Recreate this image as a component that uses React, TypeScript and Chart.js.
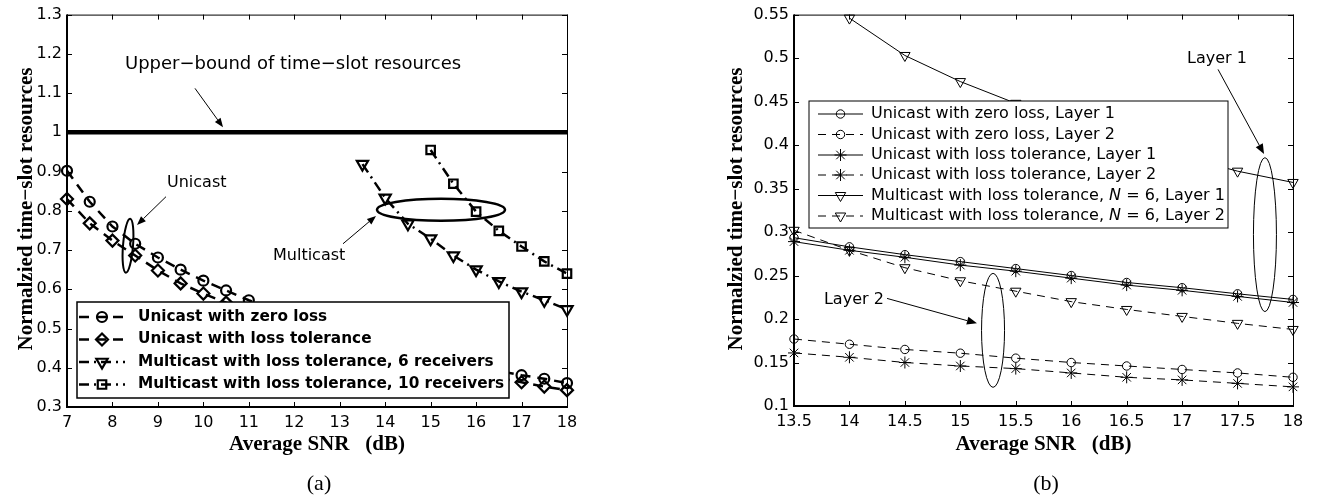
import React, { useEffect, useRef } from 'react';
import { Chart, registerables } from 'chart.js';

Chart.register(...registerables);

// ---------- Data: panel (a) ----------
const snrA = [7, 7.5, 8, 8.5, 9, 9.5, 10, 10.5, 11, 11.5, 12, 12.5, 13, 13.5, 14, 14.5, 15, 15.5, 16, 16.5, 17, 17.5, 18];
const unicastZeroLossA = [0.902, 0.823, 0.760, 0.716, 0.681, 0.650, 0.622, 0.597, 0.572, 0.549, 0.528, 0.508, 0.490, 0.473, 0.457, 0.442, 0.428, 0.415, 0.403, 0.392, 0.381, 0.372, 0.361];
const unicastLossTolA = [0.830, 0.768, 0.724, 0.686, 0.648, 0.615, 0.589, 0.566, 0.544, 0.524, 0.505, 0.487, 0.470, 0.454, 0.439, 0.425, 0.411, 0.398, 0.386, 0.374, 0.363, 0.352, 0.343];
const snrMulti6A = [13.5, 14, 14.5, 15, 15.5, 16, 16.5, 17, 17.5, 18];
const multicast6A = [0.919, 0.833, 0.767, 0.729, 0.686, 0.650, 0.620, 0.594, 0.572, 0.549];
const snrMulti10A = [15, 15.5, 16, 16.5, 17, 17.5, 18];
const multicast10A = [0.955, 0.869, 0.798, 0.749, 0.709, 0.671, 0.640];
const boundSnrA = [7, 18];
const upperBoundA = [1, 1];
const xTicksA = [7, 8, 9, 10, 11, 12, 13, 14, 15, 16, 17, 18];
const yTicksA = [0.3, 0.4, 0.5, 0.6, 0.7, 0.8, 0.9, 1, 1.1, 1.2, 1.3];
const legendA = [
  'Unicast with zero loss',
  'Unicast with loss tolerance',
  'Multicast with loss tolerance, 6 receivers',
  'Multicast with loss tolerance, 10 receivers',
];

// ---------- Data: panel (b) ----------
const snrB = [13.5, 14, 14.5, 15, 15.5, 16, 16.5, 17, 17.5, 18];
const uniZeroL1B = [0.2935, 0.283, 0.274, 0.266, 0.258, 0.250, 0.242, 0.236, 0.229, 0.2225];
const uniZeroL2B = [0.177, 0.171, 0.165, 0.1607, 0.155, 0.150, 0.146, 0.142, 0.138, 0.133];
const uniTolL1B = [0.289, 0.279, 0.271, 0.262, 0.255, 0.247, 0.239, 0.233, 0.226, 0.219];
const uniTolL2B = [0.161, 0.156, 0.150, 0.146, 0.143, 0.138, 0.133, 0.130, 0.126, 0.122];
const multiL1B = [null, 0.546, 0.503, 0.473, 0.448, 0.425, 0.405, 0.387, 0.370, 0.357];
const multiL2B = [0.302, 0.279, 0.259, 0.244, 0.232, 0.220, 0.211, 0.203, 0.195, 0.188];
const xTicksB = [13.5, 14, 14.5, 15, 15.5, 16, 16.5, 17, 17.5, 18];
const yTicksB = [0.1, 0.15, 0.2, 0.25, 0.3, 0.35, 0.4, 0.45, 0.5, 0.55];
const legendB = [
  'Unicast with zero loss, Layer 1',
  'Unicast with zero loss, Layer 2',
  'Unicast with loss tolerance, Layer 1',
  'Unicast with loss tolerance, Layer 2',
  'Multicast with loss tolerance, N = 6, Layer 1',
  'Multicast with loss tolerance, N = 6, Layer 2',
];

const X_TITLE = 'Average SNR   (dB)';
const Y_TITLE = 'Normalzied time\u2212slot resources';

const SANS = '"DejaVu Sans"';
const SERIF = '"Liberation Serif"';

type Style = {
  dash: number[];
  width: number;
  point: string | false;
  rot?: number;
  r?: number;
  pw?: number;
};

function fmt(v: number) {
  return String(Math.round(v * 1000) / 1000);
}

function makeDataset(label: string, xs: number[], ys: (number | null)[], s: Style) {
  return {
    label,
    data: xs.map((x, i) => ({ x, y: ys[i] })),
    borderColor: '#000',
    backgroundColor: 'rgba(0,0,0,0)',
    borderWidth: s.width,
    borderDash: s.dash,
    pointStyle: s.point === false ? 'circle' : s.point,
    pointRadius: s.point === false ? 0 : s.r,
    pointRotation: s.rot || 0,
    pointBorderWidth: s.pw,
    pointBorderColor: '#000',
    pointBackgroundColor: 'rgba(0,0,0,0)',
    tension: 0,
    fill: false,
    clip: false as any,
    spanGaps: false,
  };
}

function drawMarker(ctx: CanvasRenderingContext2D, style: string, rot: number, x: number, y: number, r: number) {
  ctx.beginPath();
  if (style === 'circle') {
    ctx.arc(x, y, r, 0, Math.PI * 2);
  } else if (style === 'rectRot') {
    ctx.moveTo(x, y - r);
    ctx.lineTo(x + r, y);
    ctx.lineTo(x, y + r);
    ctx.lineTo(x - r, y);
    ctx.closePath();
  } else if (style === 'rect') {
    const h = r * Math.SQRT1_2;
    ctx.rect(x - h, y - h, 2 * h, 2 * h);
  } else if (style === 'triangle') {
    let a = (rot * Math.PI) / 180;
    ctx.moveTo(x + Math.sin(a) * r, y - Math.cos(a) * r);
    a += (2 * Math.PI) / 3;
    ctx.lineTo(x + Math.sin(a) * r, y - Math.cos(a) * r);
    a += (2 * Math.PI) / 3;
    ctx.lineTo(x + Math.sin(a) * r, y - Math.cos(a) * r);
    ctx.closePath();
  } else if (style === 'star') {
    for (let k = 0; k < 4; k++) {
      const a = (k * Math.PI) / 4;
      ctx.moveTo(x - Math.sin(a) * r, y - Math.cos(a) * r);
      ctx.lineTo(x + Math.sin(a) * r, y + Math.cos(a) * r);
    }
  }
  ctx.stroke();
}

type Ann = {
  texts: { t: string; x: number; y: number; size: number }[];
  arrows: { x1: number; y1: number; x2: number; y2: number; lw: number; hl: number; hw: number }[];
  ellipses: { x: number; y: number; rx: number; ry: number; rot: number; lw: number }[];
};

type LegendCfg = {
  box: [number, number, number, number];
  rows: number[];
  lineX: [number, number];
  textX: number;
  font: string;
  boxLw: number;
};

function decorPlugin(id: string, styles: Style[], labels: string[], leg: LegendCfg, ann: Ann, tag: string, tagX: number, yTitleX: number) {
  return {
    id,
    afterDraw(chart: any) {
      const { ctx, chartArea: ca } = chart;
      const xs = chart.scales.x;
      const ys = chart.scales.y;
      ctx.save();
      ctx.strokeStyle = '#000';
      ctx.fillStyle = '#000';
      ctx.setLineDash([]);
      // ticks (inward)
      ctx.lineWidth = 1;
      const TL = 5;
      ctx.beginPath();
      xs.ticks.forEach((t: any) => {
        const p = Math.round(xs.getPixelForValue(t.value)) + 0.5;
        ctx.moveTo(p, ca.bottom);
        ctx.lineTo(p, ca.bottom - TL);
        ctx.moveTo(p, ca.top);
        ctx.lineTo(p, ca.top + TL);
      });
      ys.ticks.forEach((t: any) => {
        const p = Math.round(ys.getPixelForValue(t.value)) + 0.5;
        ctx.moveTo(ca.left, p);
        ctx.lineTo(ca.left + TL, p);
        ctx.moveTo(ca.right, p);
        ctx.lineTo(ca.right - TL, p);
      });
      ctx.stroke();
      // frame
      ctx.lineWidth = 1;
      ctx.beginPath();
      ctx.moveTo(ca.left, ca.top + 0.5);
      ctx.lineTo(ca.right, ca.top + 0.5);
      ctx.moveTo(ca.right + 0.5, ca.top);
      ctx.lineTo(ca.right + 0.5, ca.bottom);
      ctx.stroke();
      ctx.lineWidth = 2;
      ctx.beginPath();
      ctx.moveTo(ca.left, ca.top);
      ctx.lineTo(ca.left, ca.bottom);
      ctx.lineTo(ca.right + 1, ca.bottom);
      ctx.stroke();

      // annotations
      const X = (v: number) => xs.getPixelForValue(v);
      const Y = (v: number) => ys.getPixelForValue(v);
      ann.ellipses.forEach((e) => {
        ctx.lineWidth = e.lw;
        ctx.beginPath();
        ctx.ellipse(X(e.x), Y(e.y), e.rx, e.ry, e.rot, 0, Math.PI * 2);
        ctx.stroke();
      });
      ann.arrows.forEach((a) => {
        const x1 = X(a.x1), y1 = Y(a.y1), x2 = X(a.x2), y2 = Y(a.y2);
        const ang = Math.atan2(y2 - y1, x2 - x1);
        const bx = x2 - Math.cos(ang) * a.hl;
        const by = y2 - Math.sin(ang) * a.hl;
        ctx.lineWidth = a.lw;
        ctx.beginPath();
        ctx.moveTo(x1, y1);
        ctx.lineTo(bx, by);
        ctx.stroke();
        ctx.beginPath();
        ctx.moveTo(x2, y2);
        ctx.lineTo(bx + Math.sin(ang) * a.hw, by - Math.cos(ang) * a.hw);
        ctx.lineTo(bx - Math.sin(ang) * a.hw, by + Math.cos(ang) * a.hw);
        ctx.closePath();
        ctx.fill();
      });
      ctx.textBaseline = 'middle';
      ctx.textAlign = 'left';
      ann.texts.forEach((t) => {
        ctx.font = `${t.size}px ${SANS}`;
        ctx.fillText(t.t, X(t.x), Y(t.y));
      });

      // legend
      const [bx0, by0, bx1, by1] = leg.box;
      ctx.fillStyle = '#fff';
      ctx.fillRect(bx0, by0, bx1 - bx0, by1 - by0);
      ctx.lineWidth = leg.boxLw;
      ctx.strokeRect(bx0, by0, bx1 - bx0, by1 - by0);
      ctx.fillStyle = '#000';
      labels.forEach((lab, i) => {
        const s = styles[i];
        const ry = leg.rows[i];
        ctx.lineWidth = s.width;
        ctx.setLineDash(s.dash);
        ctx.beginPath();
        ctx.moveTo(leg.lineX[0], ry);
        ctx.lineTo(leg.lineX[1], ry);
        ctx.stroke();
        ctx.setLineDash([]);
        if (s.point) {
          ctx.lineWidth = s.pw || 1;
          drawMarker(ctx, s.point, s.rot || 0, (leg.lineX[0] + leg.lineX[1]) / 2, ry, s.r || 4);
        }
        // text with italic N
        let x = leg.textX;
        const parts = lab.split(/(\bN\b)/);
        parts.forEach((p) => {
          if (p === 'N') ctx.font = `italic ${leg.font}`;
          else ctx.font = leg.font;
          ctx.fillText(p, x, ry);
          x += ctx.measureText(p).width;
        });
      });

      // axis titles
      ctx.font = `bold 21px ${SERIF}`;
      ctx.textAlign = 'center';
      ctx.textBaseline = 'alphabetic';
      ctx.fillText(X_TITLE, (ca.left + ca.right) / 2, 450);
      ctx.save();
      ctx.translate(yTitleX, 209);
      ctx.rotate(-Math.PI / 2);
      ctx.fillText(Y_TITLE, 0, 0);
      ctx.restore();
      ctx.font = `22px ${SERIF}`;
      ctx.fillText(tag, tagX, 490);
      ctx.restore();
    },
  };
}

function scaleOpts(min: number, max: number, ticks: number[], isX: boolean, size: number) {
  return {
    type: 'linear' as const,
    min,
    max,
    grid: { display: false, drawTicks: false, tickLength: 0 },
    border: { display: false },
    afterBuildTicks: (s: any) => {
      s.ticks = ticks.map((v) => ({ value: v }));
    },
    afterFit: (s: any) => {
      if (isX) s.height = size;
      else s.width = size;
    },
    ticks: {
      autoSkip: false,
      maxRotation: 0,
      minRotation: 0,
      padding: isX ? 6 : 5,
      color: '#000',
      font: { family: 'DejaVu Sans', size: 16 },
      callback: (v: any) => fmt(Number(v)),
    },
  };
}

const stylesA: Style[] = [
  { dash: [10, 7], width: 2.5, point: 'circle', r: 5, pw: 2.2 },
  { dash: [10, 7], width: 2.5, point: 'rectRot', r: 6, pw: 2.2 },
  { dash: [10, 5, 2, 5], width: 2.5, point: 'triangle', rot: 180, r: 6.5, pw: 2.2 },
  { dash: [10, 5, 2, 5], width: 2.5, point: 'rect', r: 6, pw: 2.2 },
];
const boundStyleA: Style = { dash: [], width: 4.5, point: false };

const stylesB: Style[] = [
  { dash: [], width: 1, point: 'circle', r: 4.2, pw: 1 },
  { dash: [8, 6], width: 1, point: 'circle', r: 4.2, pw: 1 },
  { dash: [], width: 1, point: 'star', r: 6, pw: 1 },
  { dash: [8, 6], width: 1, point: 'star', r: 6, pw: 1 },
  { dash: [], width: 1, point: 'triangle', rot: 180, r: 6, pw: 1 },
  { dash: [8, 6], width: 1, point: 'triangle', rot: 180, r: 6, pw: 1 },
];

const annA: Ann = {
  texts: [
    { t: 'Upper\u2212bound of time\u2212slot resources', x: 8.276, y: 1.173, size: 18 },
    { t: 'Unicast', x: 9.2, y: 0.871, size: 16 },
    { t: 'Multicast', x: 11.532, y: 0.686, size: 16 },
  ],
  arrows: [
    { x1: 9.816, y1: 1.112, x2: 10.432, y2: 1.013, lw: 1, hl: 9, hw: 3.5 },
    { x1: 9.178, y1: 0.836, x2: 8.54, y2: 0.764, lw: 1, hl: 9, hw: 3.5 },
    { x1: 13.072, y1: 0.716, x2: 13.798, y2: 0.787, lw: 1, hl: 9, hw: 3.5 },
  ],
  ellipses: [
    { x: 8.342, y: 0.711, rx: 5, ry: 27, rot: 0.08, lw: 2 },
    { x: 15.228, y: 0.8025, rx: 64, ry: 11, rot: 0, lw: 2.5 },
  ],
};

const annB: Ann = {
  texts: [
    { t: 'Layer 1', x: 17.044, y: 0.4996, size: 16 },
    { t: 'Layer 2', x: 13.77, y: 0.2225, size: 16 },
  ],
  arrows: [
    { x1: 17.324, y1: 0.487, x2: 17.739, y2: 0.3897, lw: 1, hl: 10, hw: 4 },
    { x1: 14.339, y1: 0.2237, x2: 15.15, y2: 0.195, lw: 1, hl: 10, hw: 4 },
  ],
  ellipses: [
    { x: 17.747, y: 0.297, rx: 11.5, ry: 77, rot: 0, lw: 1 },
    { x: 15.295, y: 0.187, rx: 11.5, ry: 57, rot: 0, lw: 1 },
  ],
};

export default function App() {
  const refA = useRef<HTMLCanvasElement>(null);
  const refB = useRef<HTMLCanvasElement>(null);

  useEffect(() => {
    const chartA = new Chart(refA.current as HTMLCanvasElement, {
      type: 'line',
      data: {
        datasets: [
          makeDataset('Upper-bound', boundSnrA, upperBoundA, boundStyleA),
          makeDataset(legendA[0], snrA, unicastZeroLossA, stylesA[0]),
          makeDataset(legendA[1], snrA, unicastLossTolA, stylesA[1]),
          makeDataset(legendA[2], snrMulti6A, multicast6A, stylesA[2]),
          makeDataset(legendA[3], snrMulti10A, multicast10A, stylesA[3]),
        ] as any,
      },
      options: {
        responsive: false,
        animation: false,
        events: [],
        devicePixelRatio: 1,
        layout: { padding: { left: 0, right: 83, top: 13, bottom: 0 } },
        plugins: { legend: { display: false }, tooltip: { enabled: false } },
        scales: {
          x: scaleOpts(7, 18, xTicksA, true, 91),
          y: scaleOpts(0.3, 1.3, yTicksA, false, 67),
        } as any,
      },
      plugins: [
        decorPlugin(
          'decorA',
          stylesA,
          legendA,
          { box: [77, 302, 509, 398], rows: [317, 339.5, 362, 384.5], lineX: [79, 125], textX: 138, font: `bold 15.3px ${SANS}`, boxLw: 1.5 },
          annA,
          '(a)',
          319,
          32
        ),
      ],
    });

    const chartB = new Chart(refB.current as HTMLCanvasElement, {
      type: 'line',
      data: {
        datasets: [
          makeDataset(legendB[0], snrB, uniZeroL1B, stylesB[0]),
          makeDataset(legendB[1], snrB, uniZeroL2B, stylesB[1]),
          makeDataset(legendB[2], snrB, uniTolL1B, stylesB[2]),
          makeDataset(legendB[3], snrB, uniTolL2B, stylesB[3]),
          makeDataset(legendB[4], snrB, multiL1B, stylesB[4]),
          makeDataset(legendB[5], snrB, multiL2B, stylesB[5]),
        ] as any,
      },
      options: {
        responsive: false,
        animation: false,
        events: [],
        devicePixelRatio: 1,
        layout: { padding: { left: 0, right: 24, top: 13, bottom: 0 } },
        plugins: { legend: { display: false }, tooltip: { enabled: false } },
        scales: {
          x: scaleOpts(13.5, 18, xTicksB, true, 92),
          y: scaleOpts(0.1, 0.55, yTicksB, false, 144),
        } as any,
      },
      plugins: [
        decorPlugin(
          'decorB',
          stylesB,
          legendB,
          { box: [159, 101, 578, 228], rows: [114, 134.5, 155, 175, 195.5, 216], lineX: [168, 213], textX: 221, font: `16px ${SANS}`, boxLw: 1 },
          annB,
          '(b)',
          396,
          92
        ),
      ],
    });

    return () => {
      chartA.destroy();
      chartB.destroy();
    };
  }, []);

  return (
    <div style={{ position: 'absolute', left: 0, top: 0, width: 1317, height: 498, background: '#fff' }}>
      <canvas ref={refA} width={650} height={498} style={{ position: 'absolute', left: 0, top: 0, width: 650, height: 498 }} />
      <canvas ref={refB} width={667} height={498} style={{ position: 'absolute', left: 650, top: 0, width: 667, height: 498 }} />
    </div>
  );
}
